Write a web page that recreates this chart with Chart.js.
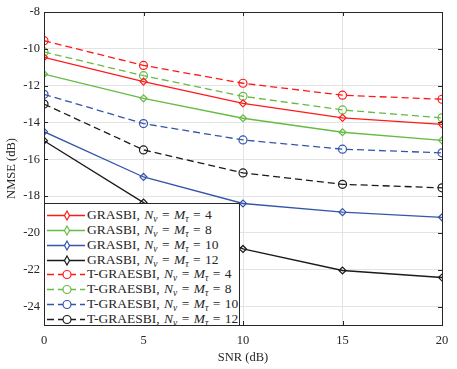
<!DOCTYPE html>
<html>
<head>
<meta charset="utf-8">
<script src="https://cdn.jsdelivr.net/npm/chart.js@4.4.0/dist/chart.umd.min.js"></script>
<style>
body{margin:0;background:#fff}
#wrap{position:relative;width:457px;height:369px}
#legend{position:absolute;left:44px;top:203px;width:196px;height:123px;border:1px solid #262626;background:#fff;
  font-family:'Liberation Serif',serif;font-size:13.5px;color:#262626;box-sizing:border-box;overflow:hidden}
.row{position:absolute;left:1px;height:15px;display:flex;align-items:center;white-space:nowrap;word-spacing:1px}
.row svg{margin-right:1px}
sub{font-size:9.5px;vertical-align:-3px}
</style>
</head>
<body>
<div id="wrap">
<canvas id="chart" width="457" height="369"></canvas>
<div id="legend"></div>
</div>
<script>
// data
const snr = [0, 5, 10, 15, 20];
const grasbi4 = [-10.46, -11.78, -12.96, -13.75, -14.1];
const grasbi8 = [-11.37, -12.69, -13.77, -14.53, -14.97];
const grasbi10 = [-14.5, -16.96, -18.4, -18.87, -19.15];
const grasbi12 = [-14.99, -18.35, -20.87, -22.04, -22.42];
const tgraesbi4 = [-9.56, -10.9, -11.87, -12.52, -12.74];
const tgraesbi8 = [-10.17, -11.46, -12.58, -13.32, -13.75];
const tgraesbi10 = [-12.47, -14.06, -14.95, -15.45, -15.65];
const tgraesbi12 = [-13.0, -15.49, -16.74, -17.36, -17.55];
const sizes = [4, 8, 10, 12];
const yTicks = [-24, -22, -20, -18, -16, -14, -12, -10, -8];
const xTicks = [0, 5, 10, 15, 20];

const colors = ['#ff1a1a', '#66bb44', '#3355aa', '#1a1a1a'];
const font = "'Liberation Serif', serif";

function pts(arr) {
    return arr.map((v, i) => ({x: snr[i], y: v}));
}

function make_set(arr, idx, dashed) {
    return {
        label: (dashed ? 'T-GRAESBI' : 'GRASBI') + ', Nν = Mτ = ' + sizes[idx],
        data: pts(arr),
        borderColor: colors[idx],
        backgroundColor: '#fff',
        borderWidth: 1.3,
        borderDash: dashed ? [7, 4] : [],
        pointStyle: dashed ? 'circle' : 'rectRot',
        pointRadius: dashed ? 4 : 3.5,
        pointBorderWidth: 1.2,
        pointBorderColor: colors[idx],
        pointBackgroundColor: 'rgba(255,255,255,0)',
        tension: 0
    };
}

const datasets = [
    make_set(grasbi4, 0, false),
    make_set(grasbi8, 1, false),
    make_set(grasbi10, 2, false),
    make_set(grasbi12, 3, false),
    make_set(tgraesbi4, 0, true),
    make_set(tgraesbi8, 1, true),
    make_set(tgraesbi10, 2, true),
    make_set(tgraesbi12, 3, true)
];

// box around the plot and inward ticks
const boxPlugin = {
    id: 'box',
    afterDraw(chart) {
        const a = chart.chartArea;
        const c = chart.ctx;
        c.save();
        c.strokeStyle = '#262626';
        c.lineWidth = 1;
        c.strokeRect(a.left + 0.5, a.top + 0.5, a.right - a.left, a.bottom - a.top);
        c.beginPath();
        xTicks.forEach(t => {
            const px = Math.round(chart.scales.x.getPixelForValue(t)) + 0.5;
            c.moveTo(px, a.bottom); c.lineTo(px, a.bottom - 4);
            c.moveTo(px, a.top); c.lineTo(px, a.top + 4);
        });
        yTicks.forEach(t => {
            const py = Math.round(chart.scales.y.getPixelForValue(t)) + 0.5;
            c.moveTo(a.left, py); c.lineTo(a.left + 4, py);
            c.moveTo(a.right, py); c.lineTo(a.right - 4, py);
        });
        c.stroke();
        c.restore();
    }
};

new Chart(document.getElementById('chart'), {
    type: 'line',
    data: {datasets: datasets},
    options: {
        responsive: false,
        animation: false,
        layout: {padding: {top: 12, right: 15, left: 0, bottom: 0}},
        plugins: {legend: {display: false}, tooltip: {enabled: false}},
        scales: {
            x: {
                type: 'linear', min: 0, max: 20,
                afterFit: s => { s.height = 44; },
                afterBuildTicks: s => { s.ticks = xTicks.map(v => ({value: v})); },
                grid: {color: '#e3e3e3', drawTicks: false},
                border: {display: false},
                ticks: {color: '#262626', font: {family: font, size: 12.5}, padding: 8},
                title: {display: true, text: 'SNR (dB)', color: '#262626', font: {family: font, size: 12.5}, padding: {top: 2}}
            },
            y: {
                type: 'linear', min: -25, max: -8,
                afterFit: s => { s.width = 44; },
                afterBuildTicks: s => { s.ticks = yTicks.map(v => ({value: v})); },
                grid: {color: '#e3e3e3', drawTicks: false},
                border: {display: false},
                ticks: {color: '#262626', font: {family: font, size: 12.5}, padding: 4},
                title: {display: true, text: 'NMSE (dB)', color: '#262626', font: {family: font, size: 12.5}, padding: {bottom: 2}}
            }
        }
    },
    plugins: [boxPlugin]
});

// legend as html so the subscripts can be drawn
const legend = document.getElementById('legend');
datasets.forEach((d, i) => {
    const idx = i % 4;
    const dashed = i >= 4;
    const col = colors[idx];
    const mark = dashed
        ? '<circle cx="21" cy="7.5" r="4" fill="#fff" stroke="' + col + '" stroke-width="1.2"/>'
        : '<polygon points="21,3 23.5,7.5 21,12 18.5,7.5" fill="#fff" stroke="' + col + '" stroke-width="1.2"/>';
    const line = '<line x1="1" y1="7.5" x2="39" y2="7.5" stroke="' + col + '" stroke-width="1.3"' +
        (dashed ? ' stroke-dasharray="7,4"' : '') + '/>';
    const row = document.createElement('div');
    row.className = 'row';
    row.style.top = (4 + i * 14.86) + 'px';
    row.innerHTML = '<svg width="40" height="15">' + line + mark + '</svg>' +
        '<span>' + (dashed ? 'T-GRAESBI' : 'GRASBI') + ', <i>N</i><sub><i>ν</i></sub> = <i>M</i><sub><i>τ</i></sub> = ' + sizes[idx] + '</span>';
    legend.appendChild(row);
});
</script>
</body>
</html>
